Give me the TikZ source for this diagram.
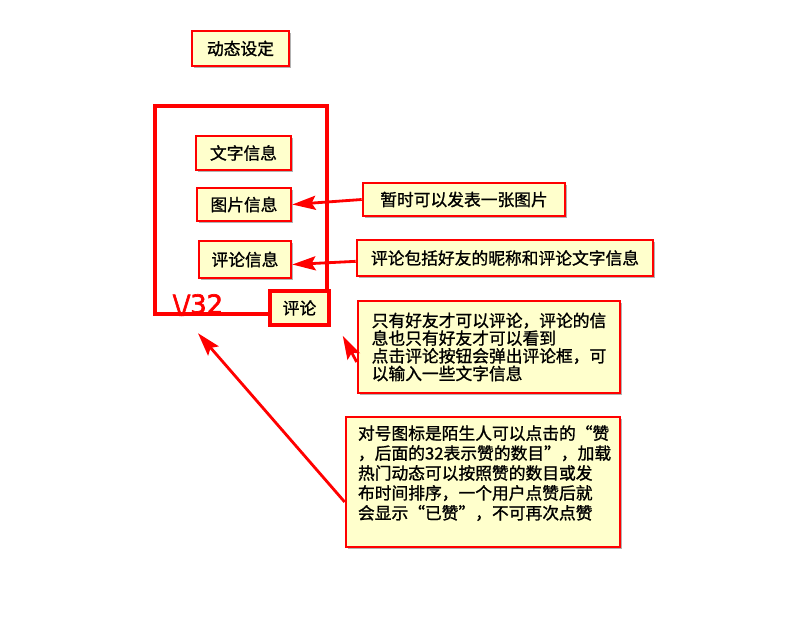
\documentclass[tikz,border=0pt]{standalone}
\usepackage{fontspec}
\setmainfont{Noto Sans CJK SC}[FakeBold=1.2]
\newfontfamily\handfont{DejaVu Sans}[FakeBold=2.5]
\usetikzlibrary{arrows.meta, positioning, shadows}
\definecolor{memored}{HTML}{FF0000}
\definecolor{memofill}{HTML}{FFFFCC}

\begin{document}
\begin{tikzpicture}[x=0.03cm, y=-0.03cm,
  every node/.style={font=\fontsize{14.3}{17}\selectfont},
  memo/.style={rectangle, draw=memored, line width=2.2pt, fill=memofill, inner sep=0pt, align=left,
    drop shadow={shadow xshift=0.07cm, shadow yshift=-0.07cm, fill=black, opacity=0.3}},
  pointer/.style={draw=memored, line width=2.4pt, -{Stealth[length=0.7cm, width=0.42cm, inset=0.12cm]}},
]
\useasboundingbox (0,0) rectangle (795,635);

\node[memo, minimum width=2.91cm, minimum height=1.05cm] (title) at (240.5,48.5) {动态设定};

% Feed item
\draw[memored, line width=3pt] (155,106) rectangle (327,314);
\node[memo, minimum width=2.85cm, minimum height=1.02cm] (txt) at (243.5,153) {文字信息};
\node[memo, minimum width=2.82cm, minimum height=0.99cm] (pic) at (244,204.5) {图片信息};
\node[memo, minimum width=2.76cm, minimum height=1.11cm] (cmtinfo) at (245,259.5) {评论信息};
\node[memo, line width=3pt, minimum width=1.77cm, minimum height=1.02cm] (cmt) at (299.5,308) {评论};
\node[text=memored, font=\handfont\fontsize{22}{22}\selectfont] (likes) at (198,305) {\textbackslash/32};

% Notes
\node[memo, minimum width=6.06cm, minimum height=0.99cm] (note1) at (464,199.5) {暂时可以发表一张图片};
\node[memo, minimum width=8.88cm, minimum height=1.08cm] (note2) at (505,258) {评论包括好友的昵称和评论文字信息};
\node[memo, font=\fontsize{14.3}{15.1}\selectfont, minimum width=7.86cm, minimum height=2.76cm] (note3) at (489,347)
  {只有好友才可以评论，评论的信\\息也只有好友才可以看到\\点击评论按钮会弹出评论框，可\\以输入一些文字信息};
\node[memo, minimum width=8.22cm, minimum height=3.9cm] (note4) at (483,482)
  {\parbox[c][3.4cm][t]{7.5cm}{\raggedright 对号图标是陌生人可以点击的“赞\\，后面的32表示赞的数目”，加载\\热门动态可以按照赞的数目或发\\布时间排序，一个用户点赞后就\\会显示“已赞”，不可再次点赞}};

\draw[pointer] (note1.west) -- (pic.east);
\draw[pointer] ([yshift=-0.1cm]note2.west) -- ([yshift=-0.15cm]cmtinfo.east);
\draw[pointer] ([yshift=-0.45cm]note3.west) -- ([xshift=0.36cm, yshift=-0.27cm]cmt.south east);
\draw[pointer] ([yshift=-0.6cm]note4.west) -- ([xshift=0cm, yshift=-0.4cm]likes.south);
\end{tikzpicture}
\end{document}
